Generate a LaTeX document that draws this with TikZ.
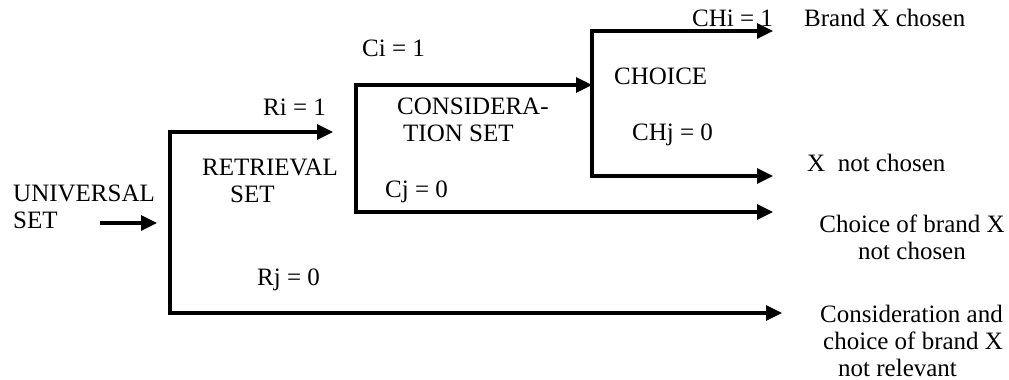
\documentclass[tikz,border=0pt]{standalone}
\usepackage{fontspec}
\setmainfont{Liberation Serif}
\usetikzlibrary{arrows.meta}

\begin{document}
\begin{tikzpicture}[x=1pt, y=-1pt,
    rama/.style={line width=3.2pt, line join=miter,
      {Triangle[length=16pt,width=15pt]}-{Triangle[length=16pt,width=15pt]}},
    flecha/.style={line width=3.2pt, -{Triangle[length=16pt,width=15pt]}},
    etiq/.style={anchor=west, inner sep=0pt, font=\fontsize{25}{27}\selectfont}]
      \useasboundingbox (0,0) rectangle (1009,380);

      % Puntos de las ramas
      \coordinate (u0) at (100,223);
      \coordinate (u1) at (157,223);
      \coordinate (rtop) at (170,132);
      \coordinate (rbot) at (170,313);
      \coordinate (rout) at (333,132);
      \coordinate (rend) at (782,313);
      \coordinate (ctop) at (356,85);
      \coordinate (cbot) at (356,212);
      \coordinate (cout) at (592,85);
      \coordinate (cend) at (773,212);
      \coordinate (htop) at (592,31);
      \coordinate (hbot) at (592,176);
      \coordinate (hout) at (773,31);
      \coordinate (hend) at (773,176);

      % Ramas
      \draw[flecha] (u0) -- (u1);
      \draw[rama] (rout) -- (rtop) -- (rbot) -- (rend);
      \draw[rama] (cout) -- (ctop) -- (cbot) -- (cend);
      \draw[rama] (hout) -- (htop) -- (hbot) -- (hend);

      % Conjuntos
      \node[etiq, align=left] (universal) at (13,207) {UNIVERSAL\\SET};
      \node[etiq, align=left] (retrieval) at (202,181) {RETRIEVAL\\\hspace*{28pt}SET};
      \node[etiq, align=left] (consideration) at (397,120) {CONSIDERA-\\\hspace*{6pt}TION SET};
      \node[etiq] (choice) at (614,76) {CHOICE};

      % Etiquetas de las ramas
      \node[etiq] (ri) at (263,107) {Ri = 1};
      \node[etiq] (rj) at (257,280) {Rj = 0};
      \node[etiq] (ci) at (362,48) {Ci = 1};
      \node[etiq] (cj) at (385,192) {Cj = 0};
      \node[etiq] (chi) at (692,18) {CHi = 1};
      \node[etiq] (chj) at (632,135) {CHj = 0};

      % Resultados
      \node[etiq] (chosen) at (804,18) {Brand X chosen};
      \node[etiq] (notchosen) at (807,163) {X\ \ not chosen};
      \node[etiq, anchor=center, align=center] (nochoice) at (912,237) {Choice of brand X\\not chosen};
      \node[etiq, align=left] (norelevant) at (820,341)
        {Consideration and\\\hspace*{3pt}choice of brand X\\\hspace*{18pt}not relevant};
\end{tikzpicture}
\end{document}
